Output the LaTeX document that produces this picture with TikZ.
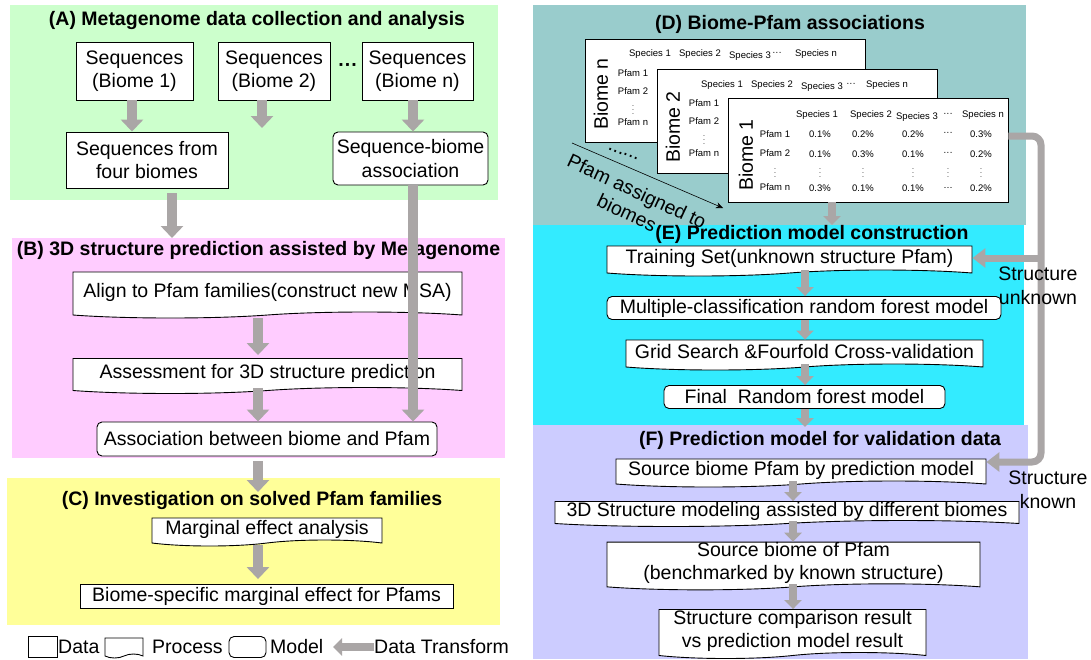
\documentclass[tikz,border=0pt]{standalone}
\usepackage{fontspec}
\setmainfont{Liberation Sans}
\usetikzlibrary{shapes.symbols, arrows.meta}

\definecolor{panelA}{HTML}{CCFFCC}
\definecolor{panelB}{HTML}{FFCCFF}
\definecolor{panelC}{HTML}{FFFF99}
\definecolor{panelD}{HTML}{99CCCC}
\definecolor{panelE}{HTML}{33EBFF}
\definecolor{panelF}{HTML}{CCCCFF}
\definecolor{flowgray}{RGB}{170,166,166}

\begin{document}
\begin{tikzpicture}[x=1pt, y=-1pt, >=Stealth,
  every node/.style={font=\fontsize{19.5}{23.5}\selectfont, inner sep=0pt, align=center},
  databox/.style={draw, fill=white, line width=0.9pt, rectangle},
  modelbox/.style={draw, fill=white, line width=0.9pt, rounded corners=5pt},
  procbox/.style={draw, fill=white, line width=0.9pt, tape, tape bend top=none,
    tape bend bottom=in and out, tape bend height=6pt},
  paneltitle/.style={font=\bfseries\fontsize{19.5}{23.5}\selectfont},
  cell/.style={font=\fontsize{9.5}{11}\selectfont},
  celldots/.style={font=\fontsize{7}{8}\selectfont},
  flow/.style={draw=flowgray, line width=10pt, -{Triangle[length=12pt,width=22pt]}},
  thinflow/.style={draw=flowgray, line width=7.5pt, -{Triangle[length=9pt,width=17pt]}},
  sideflow/.style={draw=flowgray, line width=7pt, -{Triangle[length=13pt,width=19pt]}}]

\useasboundingbox (0,0) rectangle (1091,659);
\fill[white] (0,0) rectangle (1091,659);

% Coloured panels
\fill[panelA] (10,5) rectangle (498,200);
\fill[panelB] (12,238) rectangle (505,458);
\fill[panelC] (7,478) rectangle (500,625);
\fill[panelD] (533,5) rectangle (1026,225);
\fill[panelE] (533,225) rectangle (1024,425);
\fill[panelF] (533,425) rectangle (1028,659);

% (A) metagenome data
\node[paneltitle] (titA) at (257,20) {(A) Metagenome data collection and analysis};
\node[databox, minimum width=117pt, minimum height=58pt] (seqone) at (134.5,71) {Sequences\\(Biome 1)};
\node[databox, minimum width=112pt, minimum height=58pt] (seqtwo) at (274,71) {Sequences\\(Biome 2)};
\node[databox, minimum width=111pt, minimum height=58pt] (seqn) at (417.5,71) {Sequences\\(Biome n)};
\node (dotsA) at (348,68) {\textbf{···}};
\node[databox, minimum width=162pt, minimum height=56pt] (fourbio) at (147,160) {Sequences from\\four biomes};
\node[modelbox, minimum width=155pt, minimum height=53pt] (seqbio) at (410.5,158.5) {Sequence-biome\\association};
\coordinate (stubA) at (262,128);
\coordinate (intoB) at (172,238);
\draw[flow] ([xshift=-2.5pt]seqone.south) -- ([xshift=-2.5pt]seqone.south |- fourbio.north);
\draw[flow] (seqtwo.south -| stubA) -- (stubA);
\draw[flow] ([xshift=-4.5pt]seqn.south) -- ([xshift=-4.5pt]seqn.south |- seqbio.north);
\draw[flow, shorten <=5pt] (fourbio.south -| intoB) -- (intoB);

% (B) structure prediction
\node[paneltitle] (titB) at (258.5,250) {(B) 3D structure prediction assisted by Metagenome};
\node[procbox, minimum width=389pt, minimum height=46pt] (align) at (267.5,292) {Align to Pfam families(construct new MSA)};
\node[procbox, minimum width=389pt, minimum height=35pt] (assess) at (267.5,373) {Assessment for 3D structure prediction};
\node[modelbox, minimum width=340pt, minimum height=34pt] (biopfam) at (267,439) {Association between biome and Pfam};
\coordinate (intoC) at (258,492);
\draw[flow, shorten <=6pt, shorten >=3pt] (align.south -| intoC) -- (assess.north -| intoC);
\draw[flow] (assess.south -| intoC) -- (biopfam.north -| intoC);
\draw[flow] ([xshift=2.5pt]seqbio.south) -- ([xshift=2.5pt]seqbio.south |- biopfam.north);
\draw[flow, shorten <=5pt] (biopfam.south -| intoC) -- (intoC);

% (C) solved families
\node[paneltitle] (titC) at (252,500) {(C) Investigation on solved Pfam families};
\node[procbox, minimum width=230pt, minimum height=28pt] (marg) at (267,529) {Marginal effect analysis};
\node[databox, minimum width=373pt, minimum height=24pt] (biospec) at (266.5,596.5) {Biome-specific marginal effect for Pfams};
\draw[flow, shorten <=5pt, shorten >=5pt] (marg.south -| intoC) -- (biospec.north -| intoC);

% legend
\node[databox, minimum width=29pt, minimum height=21pt] (legdata) at (42.5,647) {};
\node[anchor=west] (legdatatxt) at (58,647) {Data};
\node[procbox, minimum width=38pt, minimum height=20pt, tape bend height=4pt] (legproc) at (124,646) {};
\node[anchor=west] (legproctxt) at (152,647) {Process};
\node[modelbox, minimum width=37pt, minimum height=21pt] (legmodel) at (247.5,647) {};
\node[anchor=west] (legmodeltxt) at (270,647) {Model};
\node[anchor=west] (legflow) at (374,647) {Data Transform};
\coordinate (legtip) at (333,647);
\draw[thinflow] (legflow.west) -- (legtip);

% (D) biome-Pfam tables
\node[paneltitle] (titD) at (790,24) {(D) Biome-Pfam associations};
\node[databox, minimum width=280pt, minimum height=103pt] (tabn) at (725,90.5) {};
\node[rotate=90] (biomen) at (601,94) {Biome n};
\foreach \sx/\sy/\sn in {650/54/Species 1, 700/54/Species 2, 750/56/Species 3, 777/54/···, 816/54/Species n}
  \node[cell] at (\sx,\sy) {\sn};
\foreach \py/\pn in {73/Pfam 1, 91/Pfam 2, 122/Pfam n}
  \node[cell] at (633,\py) {\pn};
\node[celldots] at (633,107) {$\vdots$};

\node[databox, minimum width=280pt, minimum height=104pt] (tabtwo) at (797,121) {};
\node[rotate=90] (biometwo) at (673,127) {Biome 2};
\foreach \sx/\sy/\sn in {722/85/Species 1, 772/85/Species 2, 822/87/Species 3, 851/85/···, 887/85/Species n}
  \node[cell] at (\sx,\sy) {\sn};
\foreach \py/\pn in {103/Pfam 1, 121/Pfam 2, 153/Pfam n}
  \node[cell] at (704,\py) {\pn};
\node[celldots] at (704,137) {$\vdots$};

\node[databox, minimum width=280pt, minimum height=104pt] (tabone) at (868,150) {};
\node[rotate=90] (biomeone) at (746,155) {Biome 1};
\foreach \sx/\sy/\sn in {817/115/Species 1, 871/115/Species 2, 917/117/Species 3, 948/115/···, 983/115/Species n}
  \node[cell] at (\sx,\sy) {\sn};
\foreach \py/\pn in {134/Pfam 1, 153/Pfam 2, 187/Pfam n}
  \node[cell] at (775,\py) {\pn};
\node[celldots] at (775,170) {$\vdots$};
\foreach \vx/\va/\vb/\vc in {820/0.1\%/0.1\%/0.3\%, 863/0.2\%/0.3\%/0.1\%, 913/0.2\%/0.1\%/0.1\%, 948/···/···/\ldots, 981/0.3\%/0.2\%/0.2\%} {
  \node[cell] at (\vx,134) {\va};
  \node[cell] at (\vx,154) {\vb};
  \node[celldots] at (\vx,170.5) {$\vdots$};
  \node[cell] at (\vx,188) {\vc};
}

\node[rotate=-20] (moredots) at (623,154) {......};
\coordinate (assignfrom) at (572,143);
\coordinate (assignto) at (723,208);
\draw[-{Stealth[length=7pt,width=6pt]}, line width=0.6pt] (assignfrom) -- (assignto);
\node[rotate=-25] (assigntxt) at (632,202) {Pfam assigned to\\biomes};

% (E) model construction
\node[paneltitle] (titE) at (812,234) {(E) Prediction model construction};
\node[procbox, minimum width=365pt, minimum height=30pt] (train) at (789.5,258) {Training Set(unknown structure Pfam)};
\node[modelbox, minimum width=394pt, minimum height=23pt] (multi) at (804,308) {Multiple-classification random forest model};
\node[procbox, minimum width=357pt, minimum height=30pt] (grid) at (804.5,352) {Grid Search \&Fourfold Cross-validation};
\node[modelbox, minimum width=281pt, minimum height=23pt] (final) at (804.5,397) {Final\ \ Random forest model};
\coordinate (intoE) at (832,225);
\coordinate (intoF) at (805,427);
\draw[thinflow] (tabone.south -| intoE) -- (intoE);
\draw[thinflow] (train.south -| intoF) -- (multi.north -| intoF);
\draw[thinflow] (multi.south -| intoF) -- (grid.north -| intoF);
\draw[thinflow] (grid.south -| intoF) -- (final.north -| intoF);
\draw[thinflow] (final.south -| intoF) -- (intoF);

% (F) validation data
\node[paneltitle] (titF) at (820,440) {(F) Prediction model for validation data};
\node[procbox, minimum width=370pt, minimum height=28pt] (srcpred) at (801,470) {Source biome Pfam by prediction model};
\node[procbox, minimum width=464pt, minimum height=25pt] (model3d) at (787,511) {3D Structure modeling assisted by different biomes};
\node[procbox, minimum width=373pt, minimum height=45pt] (srcbio) at (793.5,563) {Source biome of Pfam\\(benchmarked by known structure)};
\node[procbox, minimum width=267pt, minimum height=49pt] (compare) at (792.5,631) {Structure comparison result\\vs prediction model result};
\coordinate (colF) at (793,440);
\draw[thinflow] (srcpred.south -| colF) -- (model3d.north -| colF);
\draw[thinflow] (model3d.south -| colF) -- (srcbio.north -| colF);
\draw[thinflow] (srcbio.south -| colF) -- (compare.north -| colF);

% side rail: known / unknown structure
\coordinate (rail) at (1041,462);
\draw[sideflow, rounded corners=9pt] ([yshift=14pt]tabone.east) -| (rail) -- (srcpred.east |- rail);
\draw[sideflow] (rail |- train.east) -- (train.east);
\node (unknownlbl) at (1038,286) {Structure\\unknown};
\node (knownlbl) at (1048,490) {Structure\\known};

\end{tikzpicture}
\end{document}
